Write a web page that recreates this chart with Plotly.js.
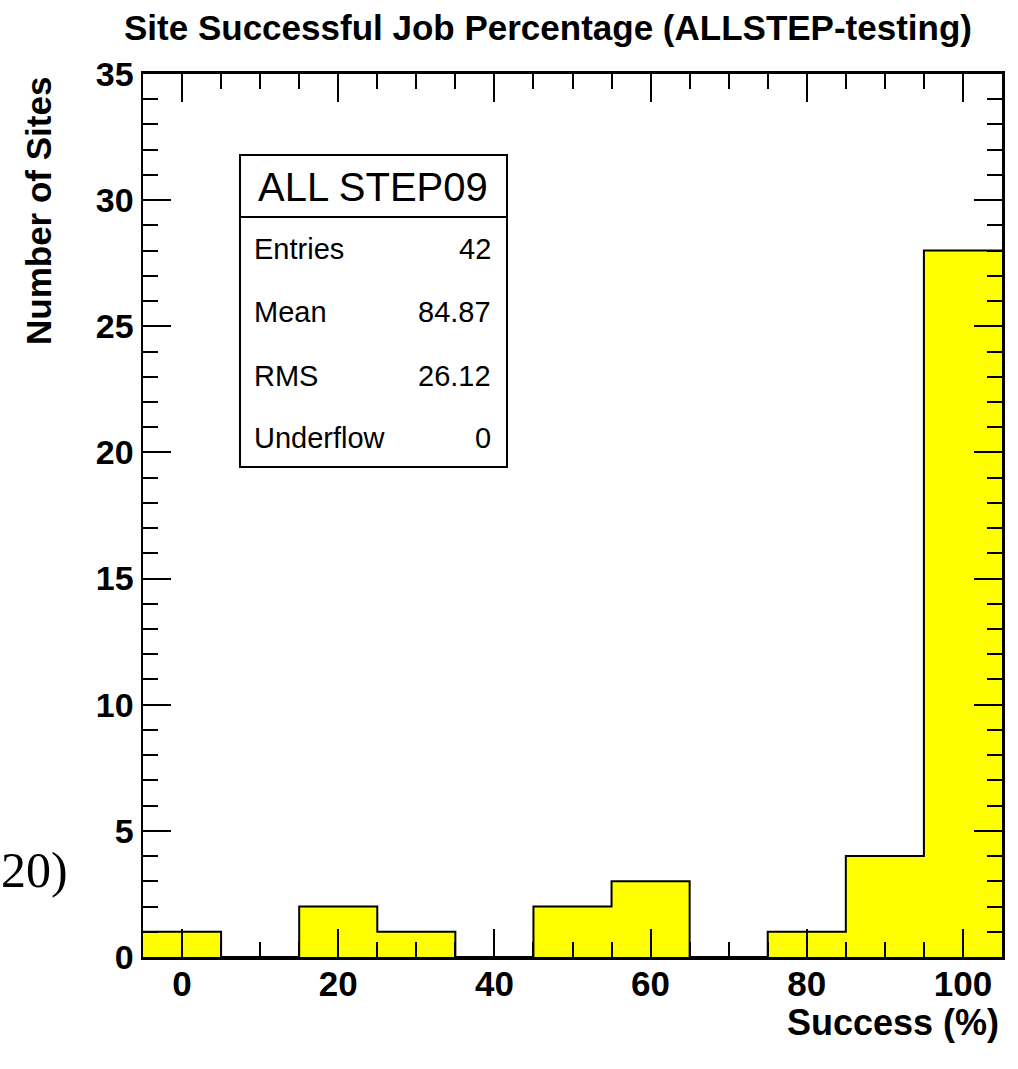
<!DOCTYPE html>
<html>
<head>
<meta charset="utf-8">
<script src="https://cdn.plot.ly/plotly-3.0.1.min.js"></script>
<style>html,body{margin:0;padding:0;background:#fff;}#chart{width:1018px;height:1069px;}</style>
</head>
<body>
<div id="chart"></div>
<script>
// Data
const binCenters = [0, 10, 20, 30, 40, 50, 60, 70, 80, 90, 100];
const siteCounts = [1, 0, 2, 1, 0, 2, 3, 0, 1, 4, 28];
const binWidth = 10;
const statLabels = ["Entries", "Mean", "RMS", "Underflow"];
const statValues = ["42", "84.87", "26.12", "0"];
const statTitle = "ALL STEP09";
const chartTitle = "Site Successful Job Percentage (ALLSTEP-testing)";
const xTitle = "Success (%)";
const yTitle = "Number of Sites";

// staircase outline from bin edges
const edges = binCenters.map(c => c - binWidth / 2).concat([binCenters[binCenters.length - 1] + binWidth / 2]);
const stepY = siteCounts.concat([siteCounts[siteCounts.length - 1]]);

const F = "Liberation Sans, Arial, Helvetica, sans-serif";

const traces = [
  {
    type: "bar", x: binCenters, y: siteCounts, width: binWidth,
    marker: {color: "#ffff00", line: {width: 0}},
    hoverinfo: "x+y", showlegend: false
  },
  {
    type: "scatter", mode: "lines", x: edges, y: stepY,
    line: {shape: "hv", color: "#000", width: 2},
    hoverinfo: "skip", showlegend: false, cliponaxis: true
  }
];

// plot area in pixels
const L = 143, R = 1002, T = 74, B = 957;
const px = v => (v - L) / (R - L);
const py = v => (B - v) / (B - T);

const rowY = [249, 312, 376, 438];
const annotations = [
  {text: yTitle, xref: "paper", yref: "paper", x: px(38), y: py(75), xanchor: "center", yanchor: "top",
   textangle: -90, showarrow: false, font: {family: F, size: 35, color: "#000", weight: "bold"}},
  {text: xTitle, xref: "paper", yref: "paper", x: px(1001), y: py(1022), xanchor: "right", yanchor: "middle",
   showarrow: false, font: {family: F, size: 36, color: "#000", weight: "bold"}},
  {text: statTitle, xref: "paper", yref: "paper", x: px(373), y: py(187), xanchor: "center", yanchor: "middle",
   showarrow: false, font: {family: F, size: 40, color: "#000"}},
  {text: "20)", xref: "paper", yref: "paper", x: px(70), y: py(870), xanchor: "right", yanchor: "middle",
   showarrow: false, font: {family: "Liberation Serif, DejaVu Serif, serif", size: 50, color: "#000"}}
];
statLabels.forEach((lab, i) => {
  annotations.push({text: lab, xref: "paper", yref: "paper", x: px(252), y: py(rowY[i]), xanchor: "left", yanchor: "middle",
    showarrow: false, font: {family: F, size: 29, color: "#000"}});
  annotations.push({text: statValues[i], xref: "paper", yref: "paper", x: px(493), y: py(rowY[i]), xanchor: "right", yanchor: "middle",
    showarrow: false, font: {family: F, size: 29, color: "#000"}});
});

const shapes = [
  {type: "rect", xref: "paper", yref: "paper", x0: px(240), x1: px(507), y0: py(467), y1: py(155),
   line: {color: "#000", width: 2}, fillcolor: "#fff", layer: "above"},
  {type: "line", xref: "paper", yref: "paper", x0: px(240), x1: px(507), y0: py(217), y1: py(217),
   line: {color: "#000", width: 2}, layer: "above"}
];

const layout = {
  width: 1018, height: 1069,
  margin: {l: L, r: 1018 - R, t: T, b: 1069 - B, pad: 0},
  paper_bgcolor: "#fff", plot_bgcolor: "#fff",
  showlegend: false,
  bargap: 0,
  title: {text: chartTitle, x: 548 / 1018, xanchor: "center", xref: "container", y: 1 - 28 / 1069, yanchor: "middle", yref: "container",
          font: {family: F, size: 35, color: "#000", weight: "bold"}},
  xaxis: {
    range: [-5, 105], tickmode: "linear", tick0: 0, dtick: 20,
    ticks: "inside", ticklen: 28, tickwidth: 2, tickcolor: "#000",
    minor: {dtick: 5, tick0: 0, ticks: "inside", ticklen: 15, tickwidth: 2, tickcolor: "#000", showgrid: false},
    showline: true, linecolor: "#000", linewidth: 3, mirror: "allticks",
    showgrid: false, zeroline: false, ticklabelstandoff: -6,
    tickfont: {family: F, size: 35, color: "#000", weight: "bold"},
    fixedrange: true
  },
  yaxis: {
    range: [0, 35], tickmode: "linear", tick0: 0, dtick: 5,
    ticks: "inside", ticklen: 28, tickwidth: 2, tickcolor: "#000",
    minor: {dtick: 1, tick0: 0, ticks: "inside", ticklen: 15, tickwidth: 2, tickcolor: "#000", showgrid: false},
    showline: true, linecolor: "#000", linewidth: 2.5, mirror: "allticks",
    showgrid: false, zeroline: false,
    tickfont: {family: F, size: 34, color: "#000", weight: "bold"},
    fixedrange: true
  },
  shapes: shapes,
  annotations: annotations
};

Plotly.newPlot("chart", traces, layout, {displayModeBar: false, staticPlot: true});
</script>
</body>
</html>
